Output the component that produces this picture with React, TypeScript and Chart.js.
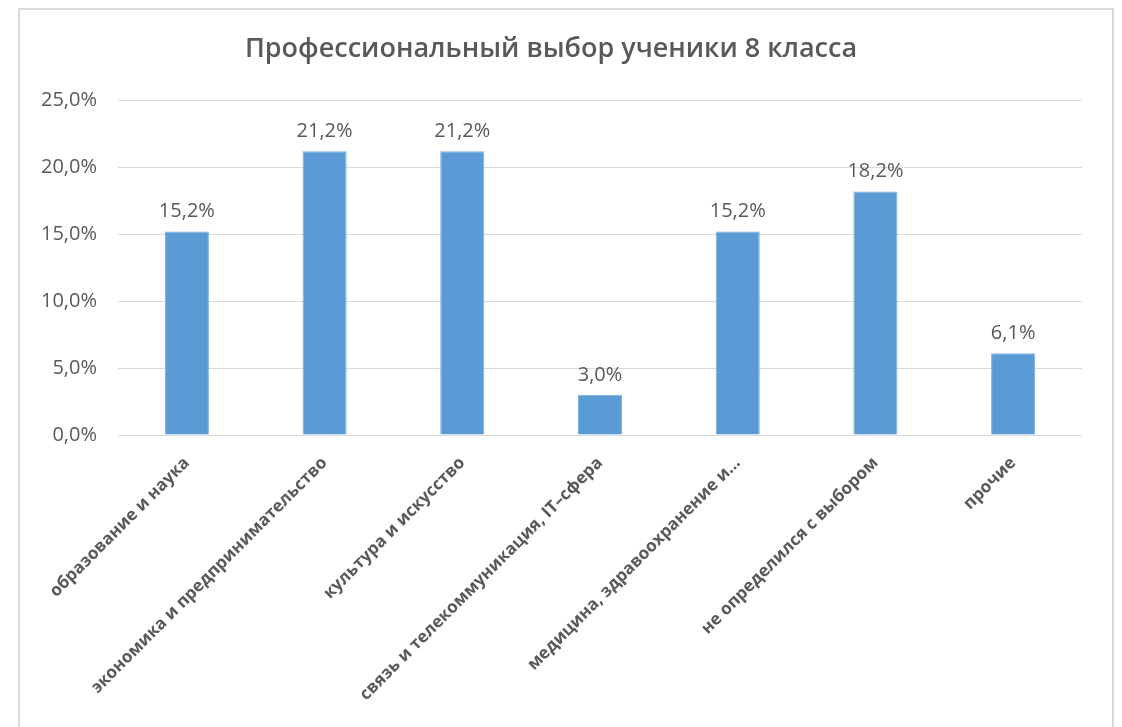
import React, { useEffect, useRef } from "react";
import { Chart, registerables } from "chart.js";

Chart.register(...registerables);

const title = "Профессиональный выбор ученики 8 класса";
const categories = [
  "образование и наука",
  "экономика и предпринимательство",
  "культура и искусство",
  "связь и телекоммуникация, IT–сфера",
  "медицина, здравоохранение и…",
  "не определился с выбором",
  "прочие",
];
const shares = [15.2, 21.2, 21.2, 3.0, 15.2, 18.2, 6.1];
const yMin = 0;
const yMax = 25;
const yStep = 5;

const fmt = (v: number) => v.toFixed(1).replace(".", ",") + "%";

const FONT = "'Open Sans', 'Noto Sans', sans-serif";
const GRAY = "#595959";

const dataLabels = {
  id: "dataLabels",
  afterDatasetsDraw(chart: any) {
    const ctx = chart.ctx;
    const meta = chart.getDatasetMeta(0);
    ctx.save();
    ctx.font = `20px ${FONT}`;
    ctx.fillStyle = GRAY;
    ctx.textAlign = "center";
    ctx.textBaseline = "bottom";
    meta.data.forEach((bar: any, i: number) => {
      ctx.fillText(fmt(shares[i]), bar.x, bar.y - 10);
    });
    ctx.restore();
  },
};

export default function App() {
  const ref = useRef<HTMLCanvasElement | null>(null);
  useEffect(() => {
    if (!ref.current) return;
    const chart = new Chart(ref.current, {
      type: "bar",
      data: {
        labels: categories,
        datasets: [
          {
            data: shares,
            backgroundColor: "#5b9bd5",
            borderColor: "#7aaedd",
            borderWidth: 1,
            barPercentage: 0.32,
            categoryPercentage: 1,
          },
        ],
      },
      options: {
        responsive: false,
        animation: false,
        layout: { padding: { left: 0, right: 30, top: 0, bottom: 0 } },
        plugins: {
          legend: { display: false },
          tooltip: { enabled: false },
          title: {
            display: true,
            text: title,
            color: GRAY,
            font: { family: FONT, size: 27, weight: "600" as any, lineHeight: 1.2 },
            padding: { top: 23, bottom: 35 },
          },
        },
        scales: {
          x: {
            grid: { display: false },
            border: { display: false },
            ticks: {
              color: GRAY,
              font: { family: FONT, size: 17, weight: "bold" },
              minRotation: 45,
              maxRotation: 45,
              autoSkip: false,
              padding: 10,
            },
            afterFit: (s: any) => {
              s.height = 292;
            },
          },
          y: {
            min: yMin,
            max: yMax,
            grid: { color: "#d9d9d9", lineWidth: 1, drawTicks: false },
            border: { display: false },
            ticks: {
              stepSize: yStep,
              color: GRAY,
              font: { family: FONT, size: 20 },
              padding: 21,
              callback: (v: any) => fmt(Number(v)),
            },
            afterFit: (s: any) => {
              s.width = 98;
            },
          },
        },
      },
      plugins: [dataLabels],
    });
    return () => chart.destroy();
  }, []);
  return (
    <div
      style={{
        position: "relative",
        marginLeft: 10,
        width: 1096,
        height: 740,
        border: "2px solid #d9d9d9",
        boxSizing: "border-box",
        background: "#fff",
        overflow: "hidden",
      }}
    >
      <canvas ref={ref} width={1092} height={717} style={{ display: "block" }} />
    </div>
  );
}
